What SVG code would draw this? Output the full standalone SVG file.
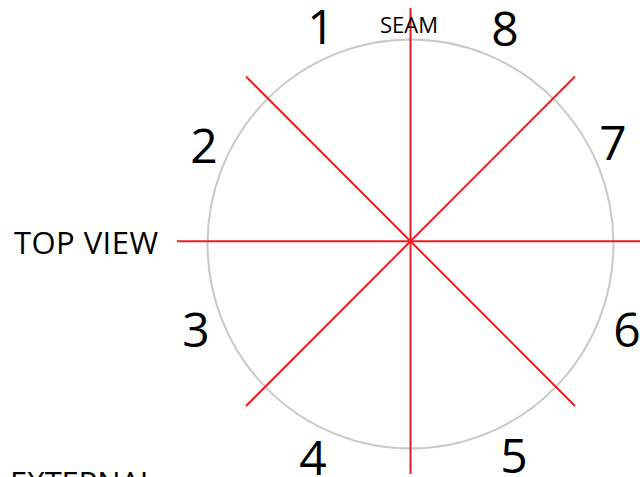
<svg xmlns="http://www.w3.org/2000/svg" width="640" height="477" viewBox="0 0 640 477">
<style>
.num{font-family:"Open Sans","Liberation Sans",sans-serif;font-size:48px;fill:#000;text-anchor:middle}
.lbl{font-family:"Open Sans","Liberation Sans",sans-serif;fill:#000}
.red{stroke:#ec1c24;stroke-width:2;fill:none}
</style>
<rect width="640" height="477" fill="#fff"/>
<g id="circle"><ellipse cx="410.5" cy="244" rx="203" ry="204.5" fill="none" stroke="#c8c8c8" stroke-width="2"/></g>
<g id="connectors">
<line class="red" x1="410.5" y1="8" x2="410.5" y2="474"/>
<line class="red" x1="177" y1="241.3" x2="640" y2="241.3"/>
<line class="red" x1="246" y1="76.5" x2="575" y2="406"/>
<line class="red" x1="575" y1="76.5" x2="246" y2="406"/>
</g>
<g id="labels">
<text class="lbl" x="409" y="33" font-size="22" text-anchor="middle">SEAM</text>
<text class="lbl" x="14" y="254" font-size="31" textLength="144">TOP VIEW</text>
<text class="lbl" x="10" y="494" font-size="31" textLength="146">EXTERNAL</text>
</g>
<g id="n1"><text class="num" x="321" y="44">1</text></g>
<g id="n8"><text class="num" x="505" y="46">8</text></g>
<g id="n2"><text class="num" x="204" y="163">2</text></g>
<g id="n7"><text class="num" x="613" y="160">7</text></g>
<g id="n3"><text class="num" x="196" y="347">3</text></g>
<g id="n6"><text class="num" x="627" y="347">6</text></g>
<g id="n4"><text class="num" x="313" y="475">4</text></g>
<g id="n5"><text class="num" x="514" y="473">5</text></g>
</svg>
